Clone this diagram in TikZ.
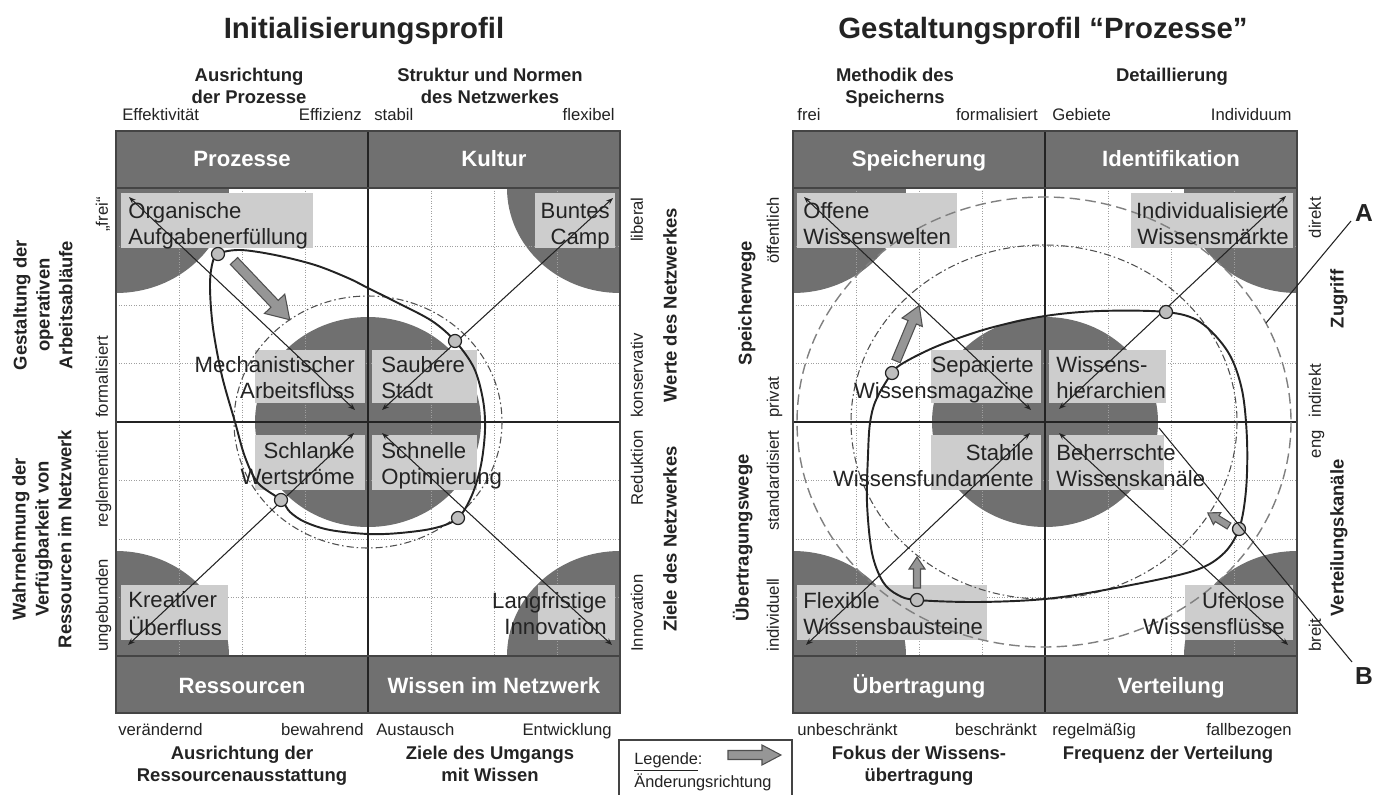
\documentclass[tikz,border=0pt]{standalone}
\usepackage{fontspec}
\setmainfont{Liberation Sans}
\usetikzlibrary{arrows.meta}

\definecolor{ink}{RGB}{35,35,35}
\definecolor{hdrgray}{RGB}{112,112,112}
\definecolor{discgray}{RGB}{112,112,112}
\definecolor{boxgray}{RGB}{205,205,205}
\definecolor{markgray}{RGB}{190,190,190}
\definecolor{arrowgray}{RGB}{150,150,150}

\newcommand\fsTitle{\fontsize{16.7}{20}\selectfont\bfseries}
\newcommand\fsAxis{\fontsize{10.5}{12.6}\selectfont\bfseries}
\newcommand\fsSide{\fontsize{10.5}{13}\selectfont\bfseries}
\newcommand\fsPole{\fontsize{9.5}{11}\selectfont}
\newcommand\fsHead{\fontsize{12.6}{15}\selectfont\bfseries}
\newcommand\fsLabel{\fontsize{12.6}{15}\selectfont}
\newcommand\fsLetter{\fontsize{14}{16}\selectfont\bfseries}
\newcommand\fsLegend{\fontsize{9.3}{13}\selectfont}

% block arrow: tail x, tail y, canvas rotation, length, shaft half width, head half width, head length
\newcommand\fatarrow[7]{%
  \begin{scope}[shift={(#1,#2)}, rotate=#3]
    \filldraw[arrowbody] (0,-#5) -- ({#4-#7},-#5) -- ({#4-#7},-#6) -- (#4,0)
      -- ({#4-#7},#6) -- ({#4-#7},#5) -- (0,#5) -- cycle;
  \end{scope}}

\tikzset{
  title/.style={font=\fsTitle, inner sep=0pt, text=ink},
  axis/.style={font=\fsAxis, inner sep=0pt, align=center, text=ink},
  side/.style={font=\fsSide, inner sep=0pt, align=center, text=ink, rotate=90},
  pole/.style={font=\fsPole, inner sep=0pt, text=ink},
  vpole/.style={font=\fsPole, inner sep=0pt, text=ink, rotate=90},
  hdrtext/.style={font=\fsHead, inner sep=0pt, text=white},
  lbl/.style={font=\fsLabel, inner sep=0pt, text=ink},
  letter/.style={font=\fsLetter, inner sep=0pt, text=ink},
  legendtext/.style={font=\fsLegend, inner sep=0pt, text=ink},
  gridline/.style={gray!75, line width=0.45pt, densely dotted},
  frameline/.style={ink!85, line width=1.1pt},
  midline/.style={ink, line width=0.8pt},
  diag/.style={ink, line width=0.6pt, {Stealth[length=4pt,width=3pt]}-{Stealth[length=4pt,width=3pt]}},
  pointer/.style={ink, line width=0.6pt},
  profile/.style={ink, line width=1.1pt},
  dashdot/.style={ink!80, line width=0.6pt, dash pattern=on 4pt off 1.7pt on 0.9pt off 1.7pt},
  longdash/.style={gray, line width=0.8pt, dash pattern=on 6pt off 3pt},
  dotmark/.style={circle, draw=ink, fill=markgray, line width=0.7pt, minimum size=0.26cm, inner sep=0pt},
  arrowbody/.style={fill=arrowgray, draw=ink!80, line width=0.6pt},
}

\begin{document}
\begin{tikzpicture}[x=0.02cm, y=-0.02cm]
\useasboundingbox (0,0) rectangle (1375,794);
\fill[white] (0,0) rectangle (1375,794);

% ---------- discs and grid of both profiles ----------
\foreach \ox in {116,793}{
  \begin{scope}
    \clip (\ox,188) rectangle (\ox+504,656);
    \fill[discgray] (\ox,188) ellipse [x radius=113, y radius=105];
    \fill[discgray] (\ox+504,188) ellipse [x radius=113, y radius=105];
    \fill[discgray] (\ox,656) ellipse [x radius=113, y radius=105];
    \fill[discgray] (\ox+504,656) ellipse [x radius=113, y radius=105];
    \fill[discgray] (\ox+252,422) ellipse [x radius=113, y radius=105];
  \end{scope}
  \foreach \k in {1,2,3,5,6,7}{
    \draw[gridline] (\ox+63*\k,188) -- (\ox+63*\k,656);
    \draw[gridline] (\ox,188+58.5*\k) -- (\ox+504,188+58.5*\k);
  }
}

% ---------- label boxes ----------
% Initialisierungsprofil
\fill[boxgray] (121,193) rectangle (313,248);
\fill[boxgray] (535,193) rectangle (615,248);
\fill[boxgray] (121,585) rectangle (228,640);
\fill[boxgray] (538,585) rectangle (615,640);
\fill[boxgray] (255,350) rectangle (365,403);
\fill[boxgray] (372,350) rectangle (477,403);
\fill[boxgray] (255,435) rectangle (365,490);
\fill[boxgray] (372,435) rectangle (477,490);
% Gestaltungsprofil
\fill[boxgray] (797,193) rectangle (957,248);
\fill[boxgray] (1131,193) rectangle (1293,248);
\fill[boxgray] (797,585) rectangle (987,640);
\fill[boxgray] (1185,585) rectangle (1293,640);
\fill[boxgray] (931,350) rectangle (1041,403);
\fill[boxgray] (1049,350) rectangle (1166,403);
\fill[boxgray] (931,435) rectangle (1041,490);
\fill[boxgray] (1049,435) rectangle (1164,490);

% ---------- headers, frame and axes ----------
\foreach \ox in {116,793}{
  \fill[hdrgray] (\ox,131) rectangle (\ox+504,188);
  \fill[hdrgray] (\ox,656) rectangle (\ox+504,713);
  \draw[midline] (\ox+252,131) -- (\ox+252,713);
  \draw[midline] (\ox,422) -- (\ox+504,422);
  \draw[frameline] (\ox,188) -- (\ox+504,188);
  \draw[frameline] (\ox,656) -- (\ox+504,656);
  \draw[frameline] (\ox,131) rectangle (\ox+504,713);
}

\node[hdrtext] (hProz) at (242,161) {\strut Prozesse};
\node[hdrtext] (hKult) at (494,161) {\strut Kultur};
\node[hdrtext] (hRess) at (242,688) {\strut Ressourcen};
\node[hdrtext] (hWiss) at (494,688) {\strut Wissen im Netzwerk};
\node[hdrtext] (hSpei) at (919,161) {\strut Speicherung};
\node[hdrtext] (hIden) at (1171,161) {\strut Identifikation};
\node[hdrtext] (hUebe) at (919,688) {\strut Übertragung};
\node[hdrtext] (hVert) at (1171,688) {\strut Verteilung};

% ---------- reference circles ----------
\draw[dashdot] (368,422) ellipse [x radius=134, y radius=126];
\draw[dashdot] (1044,422) ellipse [x radius=193, y radius=177];
\draw[longdash] (1044,422) ellipse [x radius=247, y radius=225];

% ---------- diagonals ----------
\coordinate (lA1) at (129,197);  \coordinate (lA2) at (355,410);
\coordinate (lB1) at (613,198);  \coordinate (lB2) at (382,410);
\coordinate (lC1) at (354,433);  \coordinate (lC2) at (128,645);
\coordinate (lD1) at (382,433);  \coordinate (lD2) at (612,645);
\draw[diag] (lA1) -- (lA2);
\draw[diag] (lB1) -- (lB2);
\draw[diag] (lC1) -- (lC2);
\draw[diag] (lD1) -- (lD2);
\coordinate (rA1) at (804,197);  \coordinate (rA2) at (1031,410);
\coordinate (rB1) at (1286,196); \coordinate (rB2) at (1059,409);
\coordinate (rC1) at (1030,433); \coordinate (rC2) at (806,645);
\coordinate (rD1) at (1059,433); \coordinate (rD2) at (1288,645);
\draw[diag] (rA1) -- (rA2);
\draw[diag] (rB1) -- (rB2);
\draw[diag] (rC1) -- (rC2);
\draw[diag] (rD1) -- (rD2);

% ---------- profile markers (positions) ----------
\coordinate (q1) at (218,254);
\coordinate (q2) at (455,341);
\coordinate (q3) at (281,500);
\coordinate (q4) at (458,518);
\coordinate (p1) at (892,373);
\coordinate (p2) at (1166,312);
\coordinate (p3) at (1239,529);
\coordinate (p4) at (917,600);

% ---------- profile curves ----------
\draw[profile] plot[smooth cycle, tension=0.55] coordinates {
  (q1) (240,250) (275,255) (315,265) (348,278) (368,288) (398,303) (432,321)
  (q2) (474,368) (483,400) (485,430) (481,465) (472,495)
  (q4) (435,528) (400,533) (368,534) (330,530) (305,522) (290,512)
  (q3) (258,483) (245,457) (235,422) (222,376) (213,328) (210,288) (212,265)};
\draw[profile] plot[smooth cycle, tension=0.55] coordinates {
  (p1) (905,362) (940,345) (990,328) (1045,316) (1100,311)
  (p2) (1200,322) (1228,352) (1242,390) (1247,440) (1246,490)
  (p3) (1222,555) (1190,572) (1110,589) (1045,599) (977,602)
  (p4) (898,595) (883,582) (872,553) (867,503) (868,455) (870,423) (876,400)};

% markers on top of the curves
\node[dotmark] (mq1) at (q1) {};
\node[dotmark] (mq2) at (q2) {};
\node[dotmark] (mq3) at (q3) {};
\node[dotmark] (mq4) at (q4) {};
\node[dotmark] (mp1) at (p1) {};
\node[dotmark] (mp2) at (p2) {};
\node[dotmark] (mp3) at (p3) {};
\node[dotmark] (mp4) at (p4) {};

% ---------- direction arrows ----------
\fatarrow{234}{261}{-46.5}{81}{5}{14}{22}
\fatarrow{896}{361}{67.3}{60}{4.5}{11}{18}
\fatarrow{917}{588}{90}{31}{3.5}{8}{12}
\fatarrow{1229}{526}{148.2}{25}{3.5}{7}{11}

% ---------- A / B pointers ----------
\coordinate (aFoot) at (1266,323); \coordinate (aHead) at (1351,221);
\coordinate (bFoot) at (1159,428); \coordinate (bHead) at (1352,662);
\draw[pointer] (aFoot) -- (aHead);
\draw[pointer] (bFoot) -- (bHead);
\node[letter] (letA) at (1364,213) {A};
\node[letter] (letB) at (1364,676) {B};

% ---------- field labels ----------
\node[lbl, anchor=west, align=left]  (lOrg)  at (128,226) {\strut Organische\\\strut Aufgabenerfüllung};
\node[lbl, anchor=east, align=right] (lBunt) at (610,226) {\strut Buntes\\\strut Camp};
\node[lbl, anchor=west, align=left]  (lKrea) at (128,616) {\strut Kreativer\\\strut Überfluss};
\node[lbl, anchor=east, align=right] (lLang) at (607,616) {\strut Langfristige\\\strut Innovation};
\node[lbl, anchor=east, align=right] (lMech) at (355,380) {\strut Mechanistischer\\\strut Arbeitsfluss};
\node[lbl, anchor=west, align=left]  (lSaub) at (381,380) {\strut Saubere\\\strut Stadt};
\node[lbl, anchor=east, align=right] (lSchl) at (355,466) {\strut Schlanke\\\strut Wertströme};
\node[lbl, anchor=west, align=left]  (lSchn) at (381,466) {\strut Schnelle\\\strut Optimierung};

\node[lbl, anchor=west, align=left]  (rOff)  at (803,226) {\strut Offene\\\strut Wissenswelten};
\node[lbl, anchor=east, align=right] (rInd)  at (1289,226) {\strut Individualisierte\\\strut Wissensmärkte};
\node[lbl, anchor=west, align=left]  (rFlex) at (803,616) {\strut Flexible\\\strut Wissensbausteine};
\node[lbl, anchor=east, align=right] (rUfer) at (1285,616) {\strut Uferlose\\\strut Wissensflüsse};
\node[lbl, anchor=east, align=right] (rSep)  at (1034,380) {\strut Separierte\\\strut Wissensmagazine};
\node[lbl, anchor=west, align=left]  (rHier) at (1056,380) {\strut Wissens-\\\strut hierarchien};
\node[lbl, anchor=east, align=right] (rStab) at (1034,468) {\strut Stabile\\\strut Wissensfundamente};
\node[lbl, anchor=west, align=left]  (rBeh)  at (1056,468) {\strut Beherrschte\\\strut Wissenskanäle};

% ---------- titles ----------
\node[title] (tInit) at (364,31) {\strut Initialisierungsprofil};
\node[title] (tGest) at (1043,31) {\strut Gestaltungsprofil “Prozesse”};

% ---------- top axes ----------
\node[axis] (axAus) at (249,88) {\strut Ausrichtung\\\strut der Prozesse};
\node[axis] (axStr) at (490,88) {\strut Struktur und Normen\\\strut des Netzwerkes};
\node[pole, anchor=west] (pEfk) at (122,117) {\strut Effektivität};
\node[pole, anchor=east] (pEfz) at (362,117) {\strut Effizienz};
\node[pole, anchor=west] (pSta) at (374,117) {\strut stabil};
\node[pole, anchor=east] (pFle) at (615,117) {\strut flexibel};
\node[axis] (axMet) at (895,88) {\strut Methodik des\\\strut Speicherns};
\node[axis] (axDet) at (1172,77) {\strut Detaillierung};
\node[pole, anchor=west] (pFre) at (797,117) {\strut frei};
\node[pole, anchor=east] (pFor) at (1038,117) {\strut formalisiert};
\node[pole, anchor=west] (pGeb) at (1052,117) {\strut Gebiete};
\node[pole, anchor=east] (pInd) at (1292,117) {\strut Individuum};

% ---------- bottom axes ----------
\node[pole, anchor=west] (pVer) at (118,732) {\strut verändernd};
\node[pole, anchor=east] (pBew) at (364,732) {\strut bewahrend};
\node[pole, anchor=west] (pAus) at (376,732) {\strut Austausch};
\node[pole, anchor=east] (pEnt) at (612,732) {\strut Entwicklung};
\node[axis] (axRes) at (242,766) {\strut Ausrichtung der\\\strut Ressourcenausstattung};
\node[axis] (axZie) at (490,766) {\strut Ziele des Umgangs\\\strut mit Wissen};
\node[pole, anchor=west] (pUnb) at (797,732) {\strut unbeschränkt};
\node[pole, anchor=east] (pBes) at (1037,732) {\strut beschränkt};
\node[pole, anchor=west] (pReg) at (1052,732) {\strut regelmäßig};
\node[pole, anchor=east] (pFal) at (1292,732) {\strut fallbezogen};
\node[axis] (axFok) at (919,766) {\strut Fokus der Wissens-\\\strut übertragung};
\node[axis] (axFre) at (1168,755) {\strut Frequenz der Verteilung};

% ---------- side axes, Initialisierungsprofil ----------
\node[side] (sGes) at (45,305) {\strut Gestaltung der\\\strut operativen\\\strut Arbeitsabläufe};
\node[side] (sWah) at (44,539) {\strut Wahrnehmung der\\\strut Verfügbarkeit von\\\strut Ressourcen im Netzwerk};
\node[vpole, anchor=east] (vFrei) at (104,197) {\strut „frei“};
\node[vpole, anchor=west] (vForm) at (104,418) {\strut formalisiert};
\node[vpole, anchor=east] (vRegl) at (104,430) {\strut reglementiert};
\node[vpole, anchor=west] (vUng)  at (104,652) {\strut ungebunden};
\node[vpole, anchor=east] (vLib)  at (639,197) {\strut liberal};
\node[vpole, anchor=west] (vKon)  at (639,418) {\strut konservativ};
\node[vpole, anchor=east] (vRed)  at (639,430) {\strut Reduktion};
\node[vpole, anchor=west] (vInn)  at (639,652) {\strut Innovation};
\node[side] (sWer) at (672,305) {\strut Werte des Netzwerkes};
\node[side] (sZie) at (672,539) {\strut Ziele des Netzwerkes};

% ---------- side axes, Gestaltungsprofil ----------
\node[side] (sSpe) at (747,303) {\strut Speicherwege};
\node[side] (sUeb) at (744,538) {\strut Übertragungswege};
\node[vpole, anchor=east] (vOef) at (775,197) {\strut öffentlich};
\node[vpole, anchor=west] (vPri) at (775,418) {\strut privat};
\node[vpole, anchor=east] (vStd) at (775,430) {\strut standardisiert};
\node[vpole, anchor=west] (vIdv) at (775,652) {\strut individuell};
\node[vpole, anchor=east] (vDir) at (1317,197) {\strut direkt};
\node[vpole, anchor=west] (vInd) at (1317,418) {\strut indirekt};
\node[vpole, anchor=east] (vEng) at (1317,430) {\strut eng};
\node[vpole, anchor=west] (vBre) at (1317,652) {\strut breit};
\node[side] (sZug) at (1339,299) {\strut Zugriff};
\node[side] (sVer) at (1339,538) {\strut Verteilungskanäle};

% ---------- legend ----------
\draw[ink!85, line width=0.7pt] (619,800) -- (619,740) -- (792,740) -- (792,800);
\node[legendtext, anchor=west] (legHead) at (634,760) {\strut\underline{Legende}:};
\node[legendtext, anchor=west] (legText) at (634,783) {\strut Änderungsrichtung};
\fatarrow{728}{755}{0}{53}{4.5}{10}{19}
\end{tikzpicture}
\end{document}
